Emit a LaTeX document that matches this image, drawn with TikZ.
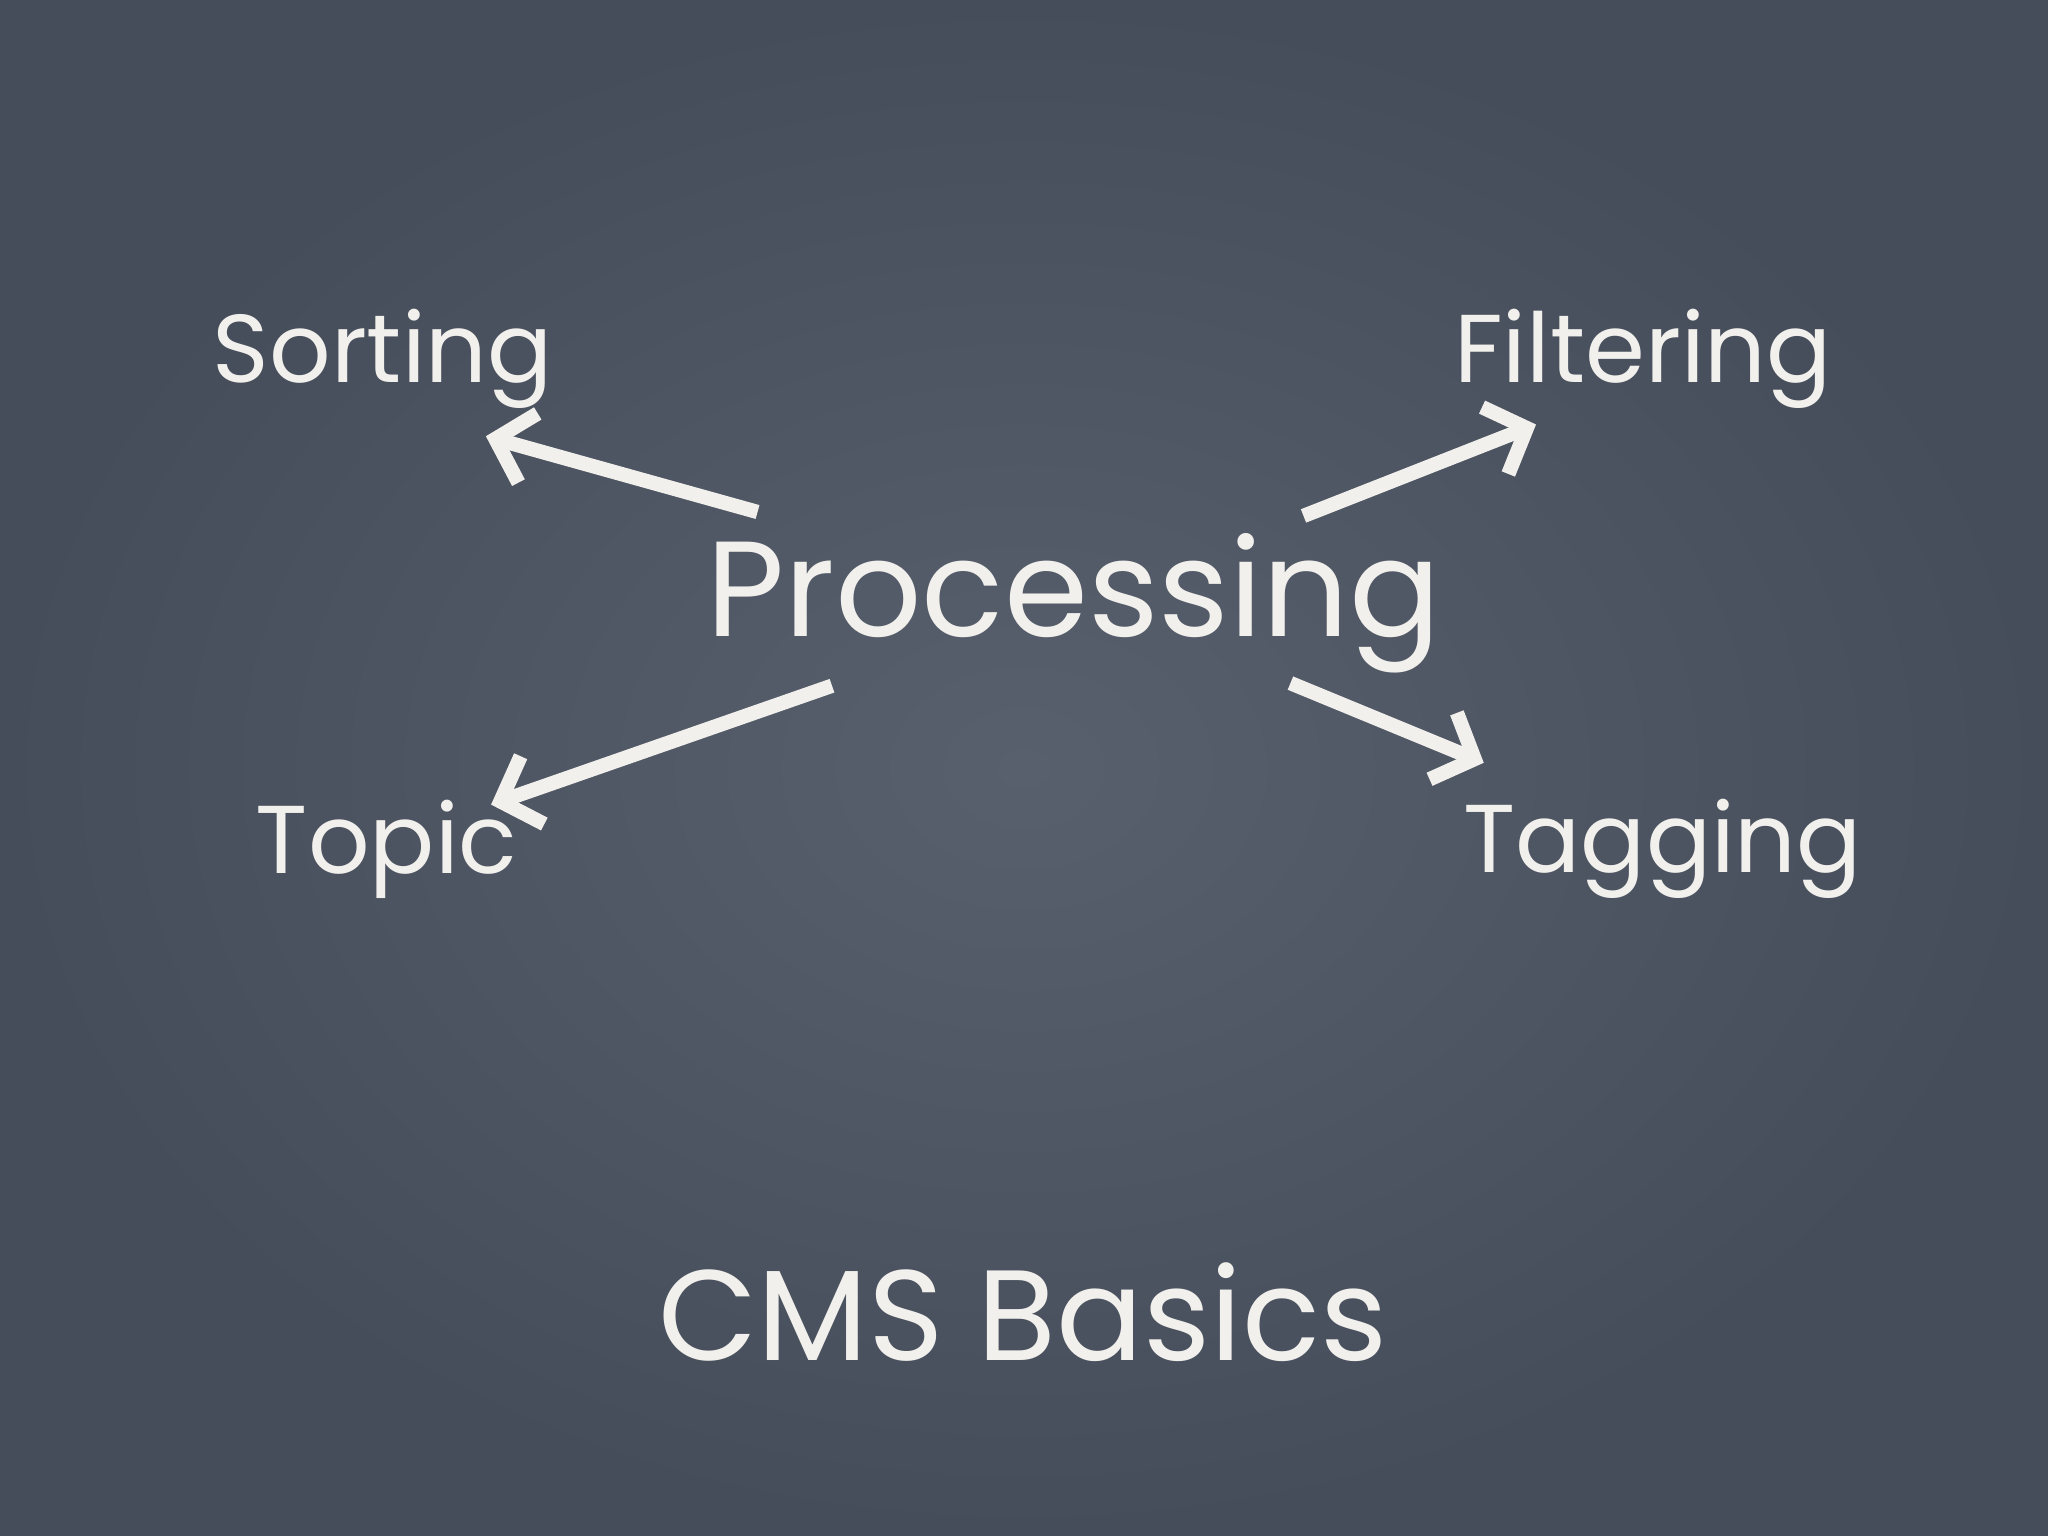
\documentclass[tikz,border=0pt]{standalone}
\usepackage{fontspec}
\setmainfont{Poppins}
\usetikzlibrary{arrows.meta}
\definecolor{board}{HTML}{58606D}
\definecolor{boarddark}{HTML}{464D5A}
\definecolor{chalk}{HTML}{F2F0EC}
\tikzset{
  lbl/.style={text=chalk, font=\fontsize{21}{25}\selectfont, inner sep=1pt},
  arr/.style={draw=chalk, line width=1.1mm, -{Straight Barb[length=2.6mm,width=5.5mm,line width=1.1mm]}}
}
\begin{document}
\begin{tikzpicture}[x=0.1mm,y=-0.1mm]
\shade[inner color=board, outer color=boarddark] (0,0) rectangle (1568,1176);
\useasboundingbox (0,0) rectangle (1568,1176);
\node[lbl] (sort) at (293,275) {Sorting};
\node[lbl] (filt) at (1258,275) {Filtering};
\node[lbl] (topic) at (296,650) {Topic};
\node[lbl] (tag) at (1273,650) {Tagging};
\node[lbl, font=\fontsize{29.5}{34}\selectfont] (proc) at (822,462) {Processing};
\node[lbl, font=\fontsize{28}{33}\selectfont] (cms) at (783,1005) {CMS Basics};
\coordinate (s0) at (580,392); \coordinate (s1) at (372,334);
\coordinate (f0) at (998,395); \coordinate (f1) at (1176,325);
\coordinate (t0) at (637,525); \coordinate (t1) at (376,616);
\coordinate (g0) at (988,523); \coordinate (g1) at (1136,584);
\draw[arr] (s0) -- (s1);
\draw[arr] (f0) -- (f1);
\draw[arr] (t0) -- (t1);
\draw[arr] (g0) -- (g1);
\end{tikzpicture}
\end{document}
